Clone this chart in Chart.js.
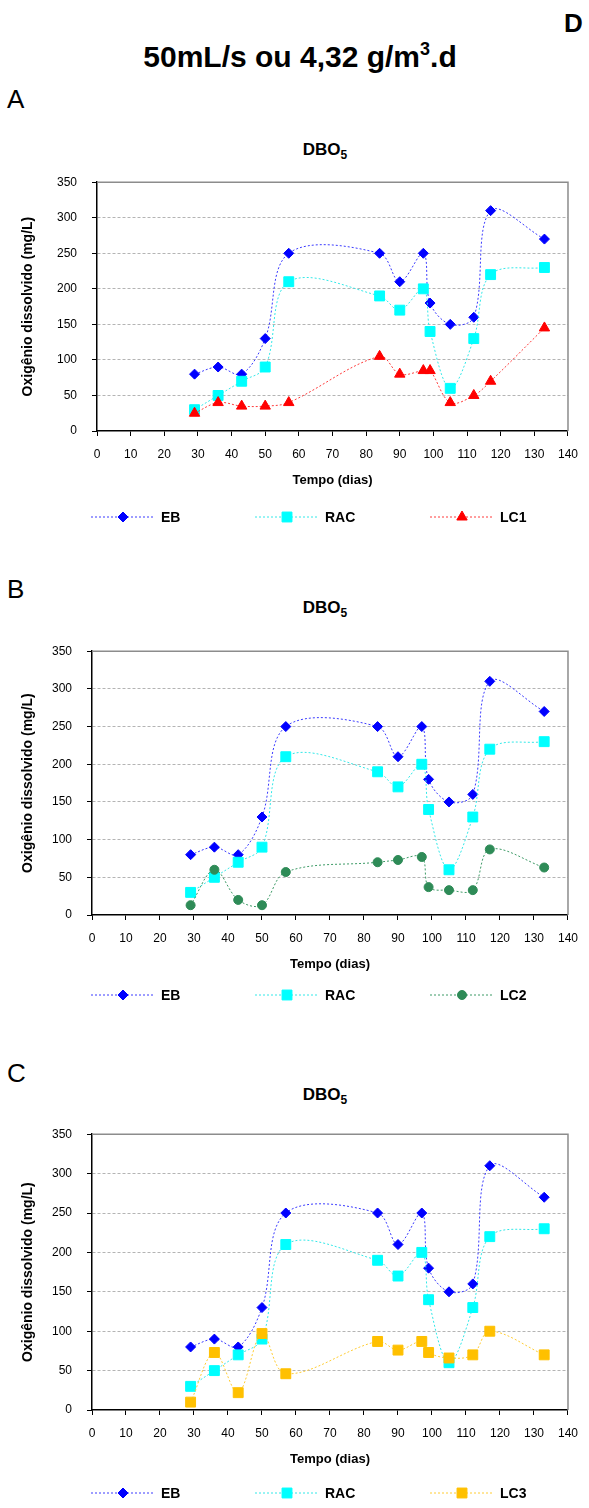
<!DOCTYPE html>
<html>
<head>
<meta charset="utf-8">
<script src="https://cdn.jsdelivr.net/npm/chart.js@4.4.0/dist/chart.umd.min.js"></script>
<style>
body { margin: 0; width: 589px; height: 1508px; position: relative; background: #fff; overflow: hidden;
	font-family: "Liberation Sans", Arial, sans-serif; }
.t { position: absolute; white-space: nowrap; color: #000; }
.dbo { font-size: 17px; font-weight: bold; left: 0; width: 650px; text-align: center; }
.dbo sub { font-size: 12px; vertical-align: -4px; }
canvas { position: absolute; left: 0; }
</style>
</head>
<body>
<div class="t" style="left:564px; top:8px; font-size:26px; font-weight:bold;">D</div>
<div class="t" style="left:0; width:600px; text-align:center; top:40px; font-size:30px; font-weight:bold;">50mL/s ou 4,32 g/m<span style="font-size:18px; position:relative; top:-12px;">3</span>.d</div>
<div class="t" style="left:7px; top:84px; font-size:26px;">A</div>
<div class="t" style="left:7px; top:574px; font-size:26px;">B</div>
<div class="t" style="left:7px; top:1058px; font-size:26px;">C</div>

<div class="t dbo" style="top:140px;">DBO<sub>5</sub></div>
<div class="t dbo" style="top:598px;">DBO<sub>5</sub></div>
<div class="t dbo" style="top:1085px;">DBO<sub>5</sub></div>

<canvas id="chartA"></canvas>
<canvas id="chartB"></canvas>
<canvas id="chartC"></canvas>

<script>
// dados (dias de operação)
var dias = [29, 36, 43, 50, 57, 84, 90, 97, 99, 105, 112, 117, 133];
var eb   = [80, 90, 80, 130, 250, 250, 210, 250, 180, 150, 160, 310, 270];
var rac  = [30, 50, 70, 90, 210, 190, 170, 200, 140, 60, 130, 220, 230];
var lc1  = [25, 40, 35, 35, 40, 105, 80, 85, 85, 40, 50, 70, 145];
var lc2  = [13, 60, 20, 13, 57, 70, 73, 77, 37, 33, 33, 87, 63];
var lc3  = [10, 73, 22, 97, 46, 87, 76, 87, 73, 66, 70, 100, 70];

var xTicks = [0, 140, 10];   // min, max, passo
var yTicks = [0, 350, 50];

var FONT = '"Liberation Sans", Arial, sans-serif';

function pontos(ys) {
	return dias.map(function(d, i) { return { x: d, y: ys[i] }; });
}

function serie(label, ys, cor, linha, estilo, raio, ordem) {
	return {
		label: label,
		data: pontos(ys),
		borderColor: linha,
		borderWidth: 1,
		borderDash: [2, 2],
		backgroundColor: cor,
		pointBackgroundColor: cor,
		pointBorderColor: cor,
		pointBorderWidth: 1,
		pointStyle: estilo,
		pointRadius: raio,
		tension: 0.35,
		fill: false,
		order: ordem
	};
}

// moldura cinza (topo e direita)
var moldura = {
	id: 'moldura',
	beforeDatasetsDraw: function(chart) {
		var a = chart.chartArea, c = chart.ctx;
		c.save();
		c.strokeStyle = '#8c8c8c';
		c.lineWidth = 1.5;
		c.beginPath();
		c.moveTo(a.left, a.top);
		c.lineTo(a.right, a.top);
		c.lineTo(a.right, a.bottom);
		c.stroke();
		c.restore();
	}
};

// legenda desenhada com linha + marcador
var legenda = {
	id: 'legenda',
	afterDraw: function(chart, args, opts) {
		var c = chart.ctx;
		var y = chart.chartArea.bottom + opts.dy;
		var xs = [91, 255, 430];
		chart.data.datasets.forEach(function(ds, i) {
			var x0 = xs[i];
			c.save();
			c.strokeStyle = ds.borderColor;
			c.lineWidth = 1;
			c.setLineDash([2, 2]);
			c.beginPath();
			c.moveTo(x0, y);
			c.lineTo(x0 + 64, y);
			c.stroke();
			c.setLineDash([]);
			c.fillStyle = ds.pointBackgroundColor;
			c.strokeStyle = ds.pointBorderColor;
			Chart.helpers.drawPoint(c, { pointStyle: ds.pointStyle, radius: ds.pointRadius, borderWidth: 1, rotation: 0 }, x0 + 32, y);
			c.fillStyle = '#000';
			c.font = 'bold 14px ' + FONT;
			c.textBaseline = 'middle';
			c.fillText(ds.label, x0 + 70, y + 1);
			c.restore();
		});
	}
};

function grafico(id, top, left, plotH, lcSerie, legDy, xPad) {
	var cv = document.getElementById(id);
	var h = 4 + plotH + 60 + 44;
	cv.width = 589;
	cv.height = h;
	cv.style.top = (top - 4) + 'px';
	return new Chart(cv, {
		type: 'line',
		data: {
			datasets: [
				serie('EB', eb, '#0000ff', '#3a3aff', 'rectRot', 5, 3),
				serie('RAC', rac, '#00ffff', '#33e8e8', 'rect', 7, 2),
				lcSerie
			]
		},
		options: {
			responsive: false,
			animation: false,
			devicePixelRatio: 1,
			layout: { padding: { top: 4, right: 15, left: 0, bottom: 44 } },
			plugins: {
				legend: { display: false },
				tooltip: { enabled: false },
				legenda: { dy: legDy }
			},
			scales: {
				x: {
					type: 'linear',
					min: xTicks[0], max: xTicks[1],
					afterFit: function(s) { s.height = 60; },
					ticks: { stepSize: xTicks[2], color: '#000', padding: xPad, maxRotation: 0,
						font: { family: FONT, size: 12 } },
					grid: { drawOnChartArea: false, tickLength: 5, tickColor: '#000', tickWidth: 1 },
					border: { color: '#000', width: 1.5 },
					title: { display: true, text: 'Tempo (dias)', color: '#000',
						font: { family: FONT, size: 13, weight: 'bold' }, padding: { top: 0, bottom: 3 } }
				},
				y: {
					min: yTicks[0], max: yTicks[1],
					afterFit: function(s) { s.width = left; },
					ticks: { stepSize: yTicks[2], color: '#000', padding: 15,
						font: { family: FONT, size: 12 } },
					grid: {
						tickLength: 5, tickColor: '#000', tickWidth: 1, lineWidth: 1,
						color: function(ctx) {
							var v = ctx.tick ? ctx.tick.value : null;
							return (v === yTicks[0] || v === yTicks[1]) ? 'rgba(0,0,0,0)' : '#b4b4b4';
						}
					},
					border: { color: '#000', width: 1.5, dash: [3, 2] },
					title: { display: true, text: 'Oxigênio dissolvido (mg/L)', color: '#000',
						font: { family: FONT, size: 14, weight: 'bold' }, padding: { top: 20, bottom: 0 } }
				}
			}
		},
		plugins: [moldura, legenda]
	});
}

var chartA = grafico('chartA', 164, 97, 267, serie('LC1', lc1, '#ff0000', '#ff3a3a', 'triangle', 6, 1), 86, 11);
var chartB = grafico('chartB', 633, 92, 282, serie('LC2', lc2, '#2e8b57', '#3d9a66', 'circle', 4.5, 1), 80, 11);
var chartC = grafico('chartC', 1116, 92, 294, serie('LC3', lc3, '#ffc000', '#ffcc33', 'rect', 7, 1), 83, 11);
</script>
</body>
</html>
